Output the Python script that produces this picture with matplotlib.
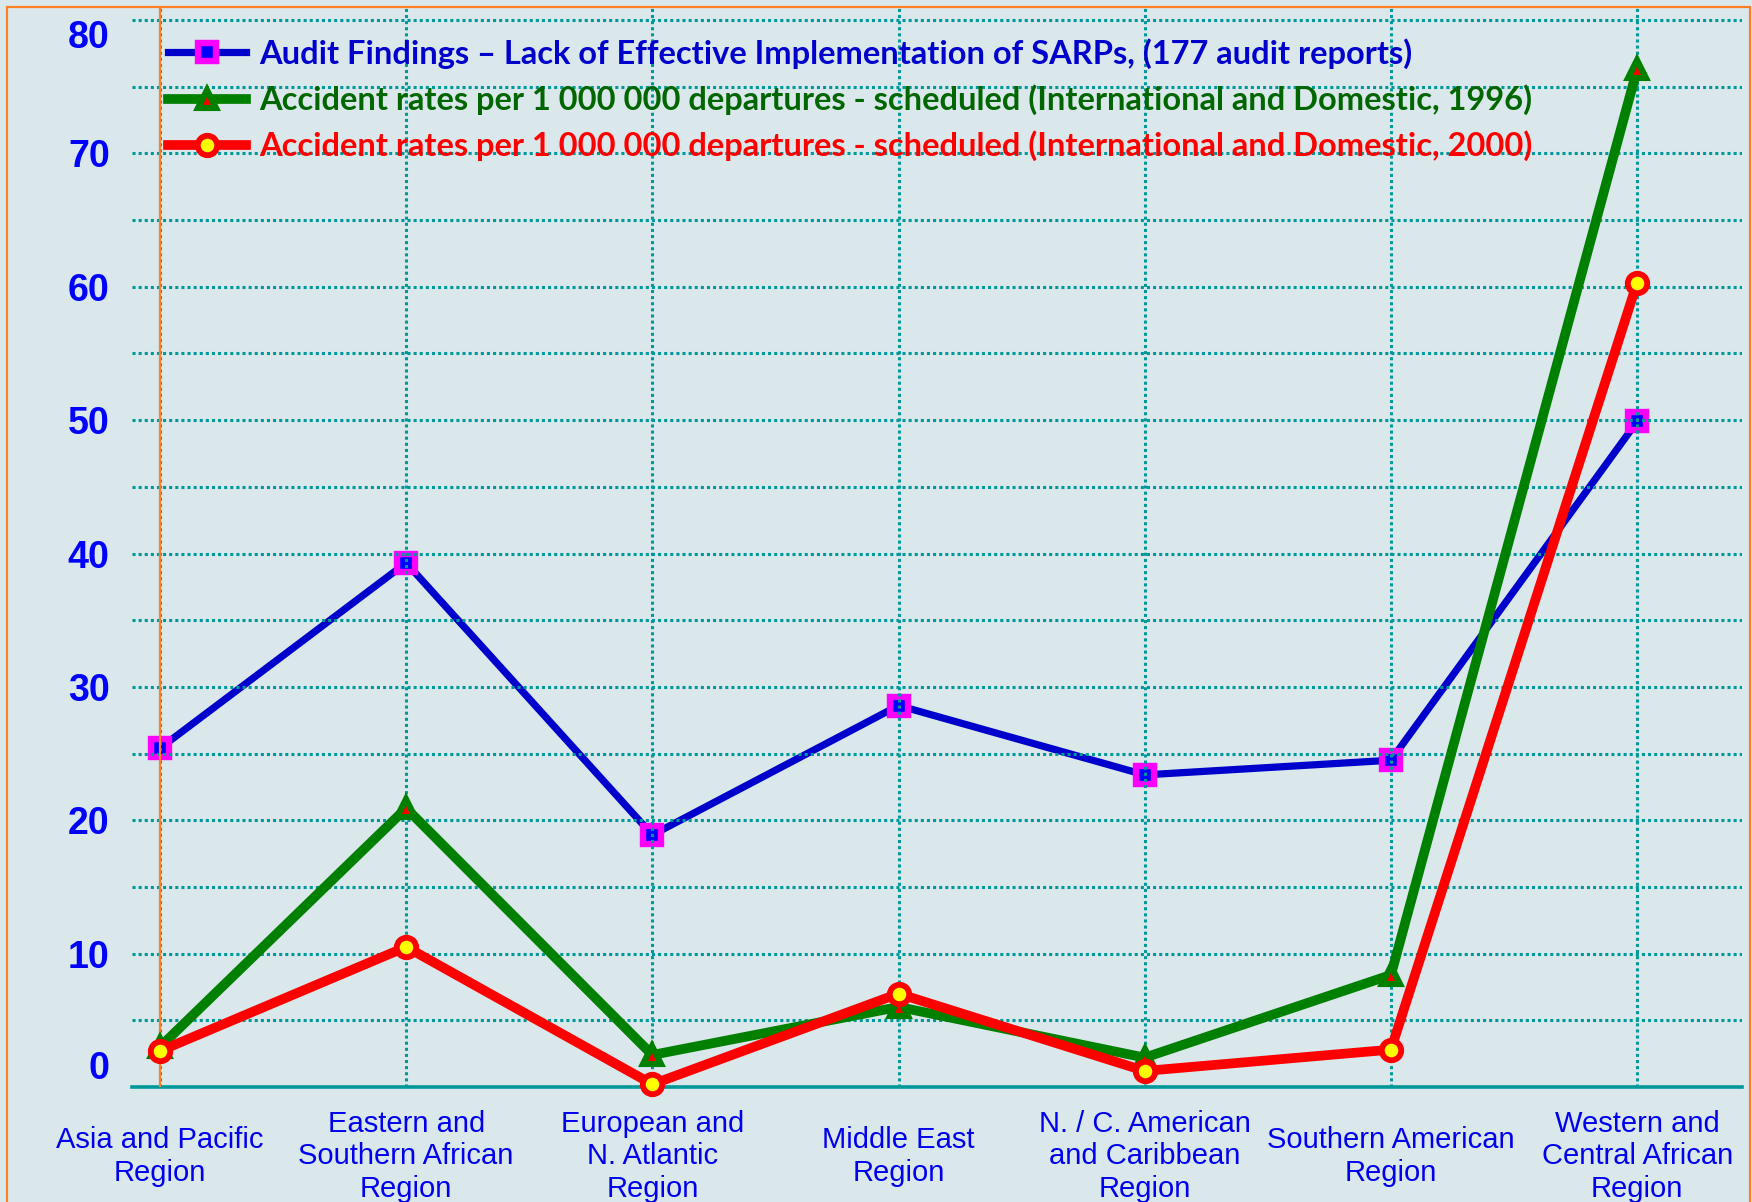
import matplotlib.pyplot as plt
import matplotlib.patches as mpatches
import numpy as np

# ----------------------------
# DATA
# ----------------------------
regions = [
    "Asia and Pacific\nRegion",
    "Eastern and\nSouthern African\nRegion",
    "European and\nN. Atlantic\nRegion",
    "Middle East\nRegion",
    "N. / C. American\nand Caribbean\nRegion",
    "Southern American\nRegion",
    "Western and\nCentral African\nRegion",
]
audit_findings = [25.4, 39.3, 18.9, 28.6, 23.4, 24.5, 49.9]
accidents_1996 = [3.0, 20.9, 2.4, 6.0, 2.2, 8.4, 76.3]
accidents_2000 = [2.7, 10.5, 0.2, 7.0, 1.2, 2.8, 60.3]

label_audit = "Audit Findings \u2013 Lack of Effective Implementation of SARPs, (177 audit reports)"
label_1996 = "Accident rates per 1 000 000 departures - scheduled (International and Domestic, 1996)"
label_2000 = "Accident rates per 1 000 000 departures - scheduled (International and Domestic, 2000)"

y_ticks = list(range(0, 81, 5))
y_labels = [str(v) if v % 10 == 0 else "" for v in y_ticks]

# ----------------------------
# STYLE
# ----------------------------
bg = "#DAE8EC"
grid_col = "#009999"
orange = "#FF7F27"

fig = plt.figure(figsize=(17.52, 12.02), dpi=100, facecolor=bg)
ax = fig.add_axes([0.0753, 0.0957, 0.919, 0.8976], facecolor=bg)

x = np.arange(len(regions))

# blue series sits under the dotted grid, the accident series above it
ax.plot(x, audit_findings, color="#0000CC", lw=5.2, marker="s", ms=13,
        mfc="#0000FF", mec="#FF00FF", mew=4.6, zorder=2, clip_on=False, label=label_audit)
ax.plot(x, accidents_1996, color="#008000", lw=7, marker="^", ms=13,
        mfc="#FF0000", mec="#008000", mew=4.4, zorder=3, clip_on=False, label=label_1996)
ax.plot(x, accidents_2000, color="#FF0000", lw=7, marker="o", ms=14,
        mfc="#FFFF00", mec="#FF0000", mew=4.2, zorder=4, clip_on=False, label=label_2000)

ax.set_xlim(-0.114, 6.426)
ax.set_ylim(0, 80.9)

# grid
ax.set_yticks(y_ticks)
ax.set_yticklabels(y_labels)
ax.set_xticks(x)
ax.set_xticklabels(regions)
ax.set_axisbelow(False)
ax.grid(True, color=grid_col, linestyle=(0, (1, 1)), linewidth=2.2)

for s in ["top", "right", "left"]:
    ax.spines[s].set_visible(False)
ax.spines["bottom"].set_color(grid_col)
ax.spines["bottom"].set_linewidth(2.6)
ax.spines["bottom"].set_zorder(2.7)

ax.axvline(0, color=orange, lw=1.6, zorder=2.8)

ax.tick_params(axis="both", length=0)
ax.tick_params(axis="y", pad=16, labelsize=27, labelcolor="#0000FF")
ax.tick_params(axis="x", pad=50, labelsize=21, labelcolor="#0000EE")
ylabs = ax.get_yticklabels()
for t in ylabs:
    t.set_fontweight("bold")
    t.set_fontfamily(["Liberation Sans", "DejaVu Sans"])
# bottom and top labels sit a little inside, as in the original
ylabs[0].set_verticalalignment("bottom")
ylabs[-1].set_verticalalignment("top")
for t in ax.get_xticklabels():
    t.set_verticalalignment("center")
    t.set_multialignment("center")
    t.set_fontfamily(["Liberation Sans", "DejaVu Sans"])

leg = ax.legend(loc="upper left", bbox_to_anchor=(0.0224, 0.972), frameon=False,
                prop={"family": ["Lato", "DejaVu Sans"], "weight": "bold", "size": 23.5},
                handlelength=2.4, handletextpad=0.4, labelspacing=0.47,
                borderaxespad=0, borderpad=0)
for txt, c in zip(leg.get_texts(), ["#0000CC", "#006600", "#FF0000"]):
    txt.set_color(c)

# outer orange frame
fig.patches.append(mpatches.Rectangle((0.004, -0.01), 0.9948, 1.0042, transform=fig.transFigure,
                                      fill=False, edgecolor=orange, lw=1.6))

fig.savefig("out.png", dpi=100, facecolor=bg)
